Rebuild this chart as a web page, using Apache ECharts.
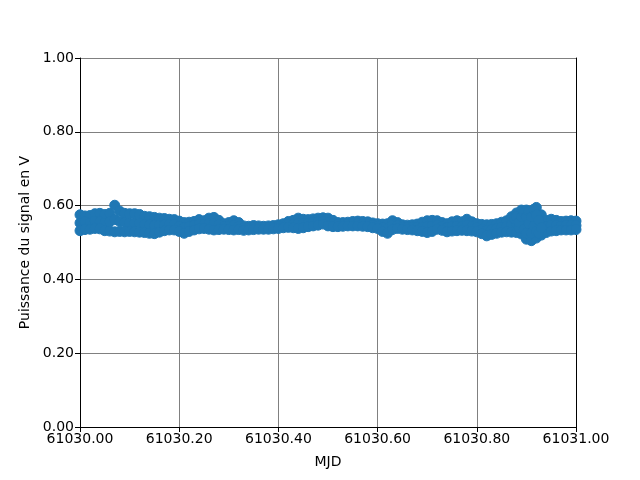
<!DOCTYPE html>
<html>
<head>
<meta charset="utf-8">
<script src="https://cdn.jsdelivr.net/npm/echarts@6/dist/echarts.min.js"></script>
<style>
  body { margin: 0; background: #fff; }
  #chart { width: 640px; height: 480px; }
</style>
</head>
<body>
<div id="chart"></div>
<script>
  // MJD sample times (offset in days from 61030)
  const mjdOffsets = [
    0.00, 0.01, 0.02, 0.03, 0.04, 0.05, 0.06, 0.07, 0.08, 0.09,
    0.10, 0.11, 0.12, 0.13, 0.14, 0.15, 0.16, 0.17, 0.18, 0.19,
    0.20, 0.21, 0.22, 0.23, 0.24, 0.25, 0.26, 0.27, 0.28, 0.29,
    0.30, 0.31, 0.32, 0.33, 0.34, 0.35, 0.36, 0.37, 0.38, 0.39,
    0.40, 0.41, 0.42, 0.43, 0.44, 0.45, 0.46, 0.47, 0.48, 0.49,
    0.50, 0.51, 0.52, 0.53, 0.54, 0.55, 0.56, 0.57, 0.58, 0.59,
    0.60, 0.61, 0.62, 0.63, 0.64, 0.65, 0.66, 0.67, 0.68, 0.69,
    0.70, 0.71, 0.72, 0.73, 0.74, 0.75, 0.76, 0.77, 0.78, 0.79,
    0.80, 0.81, 0.82, 0.83, 0.84, 0.85, 0.86, 0.87, 0.88, 0.89,
    0.90, 0.91, 0.92, 0.93, 0.94, 0.95, 0.96, 0.97, 0.98, 0.99, 1.00
  ]
  // signal power (V), upper / middle / lower readings at each time
  const sigHigh = [
    0.575, 0.572, 0.573, 0.578, 0.579, 0.576, 0.579, 0.601, 0.585, 0.579,
    0.578, 0.578, 0.576, 0.571, 0.570, 0.568, 0.566, 0.565, 0.563, 0.562,
    0.558, 0.554, 0.555, 0.557, 0.562, 0.559, 0.566, 0.568, 0.560, 0.551,
    0.554, 0.559, 0.554, 0.545, 0.544, 0.546, 0.545, 0.544, 0.545, 0.546,
    0.548, 0.551, 0.557, 0.560, 0.566, 0.563, 0.562, 0.564, 0.566, 0.567,
    0.566, 0.560, 0.554, 0.554, 0.555, 0.557, 0.558, 0.557, 0.556, 0.553,
    0.551, 0.550, 0.551, 0.559, 0.554, 0.548, 0.547, 0.548, 0.550, 0.555,
    0.559, 0.560, 0.559, 0.554, 0.551, 0.556, 0.559, 0.556, 0.563, 0.556,
    0.551, 0.549, 0.548, 0.549, 0.551, 0.555, 0.559, 0.570, 0.580, 0.588,
    0.588, 0.585, 0.595, 0.575, 0.560, 0.563, 0.560, 0.557, 0.558, 0.559, 0.558
  ]
  const sigMid = [
    0.553, 0.556, 0.553, 0.558, 0.556, 0.553, 0.556, 0.562, 0.557, 0.554,
    0.553, 0.553, 0.552, 0.549, 0.548, 0.546, 0.547, 0.548, 0.549, 0.549,
    0.544, 0.540, 0.543, 0.546, 0.550, 0.548, 0.551, 0.551, 0.548, 0.543,
    0.545, 0.546, 0.544, 0.539, 0.539, 0.540, 0.541, 0.540, 0.540, 0.541,
    0.543, 0.545, 0.549, 0.550, 0.552, 0.551, 0.552, 0.554, 0.556, 0.558,
    0.555, 0.551, 0.549, 0.549, 0.550, 0.551, 0.551, 0.550, 0.549, 0.547,
    0.545, 0.540, 0.538, 0.547, 0.546, 0.542, 0.541, 0.541, 0.541, 0.542,
    0.543, 0.545, 0.547, 0.543, 0.540, 0.543, 0.545, 0.544, 0.547, 0.543,
    0.540, 0.536, 0.533, 0.535, 0.538, 0.541, 0.544, 0.549, 0.553, 0.555,
    0.548, 0.545, 0.553, 0.547, 0.543, 0.547, 0.546, 0.545, 0.546, 0.546, 0.546
  ]
  const sigLow = [
    0.532, 0.535, 0.536, 0.538, 0.537, 0.532, 0.531, 0.529, 0.530, 0.529,
    0.530, 0.529, 0.528, 0.527, 0.525, 0.524, 0.528, 0.532, 0.534, 0.534,
    0.530, 0.525, 0.530, 0.534, 0.537, 0.538, 0.536, 0.534, 0.535, 0.536,
    0.535, 0.534, 0.535, 0.533, 0.534, 0.535, 0.536, 0.536, 0.536, 0.537,
    0.538, 0.540, 0.541, 0.540, 0.538, 0.540, 0.543, 0.545, 0.547, 0.550,
    0.545, 0.543, 0.543, 0.544, 0.545, 0.545, 0.545, 0.544, 0.543, 0.540,
    0.538, 0.530, 0.525, 0.535, 0.538, 0.536, 0.535, 0.534, 0.532, 0.530,
    0.527, 0.530, 0.536, 0.533, 0.529, 0.531, 0.532, 0.533, 0.532, 0.531,
    0.529, 0.524, 0.518, 0.522, 0.525, 0.528, 0.529, 0.528, 0.527, 0.523,
    0.509, 0.505, 0.512, 0.520, 0.527, 0.531, 0.532, 0.534, 0.534, 0.534, 0.535
  ]
  // extra readings in the noisy stretch near the end of the day
  const burstOffsets = [
    0.875, 0.880, 0.885, 0.885, 0.890, 0.895, 0.895, 0.900, 0.900, 0.905,
    0.905, 0.910, 0.910, 0.915, 0.915, 0.920, 0.920, 0.925, 0.925, 0.930
  ]
  const burstSig = [
    0.565, 0.570, 0.540, 0.555, 0.570, 0.535, 0.580, 0.570, 0.525, 0.550,
    0.585, 0.570, 0.525, 0.545, 0.590, 0.575, 0.530, 0.560, 0.525, 0.540
  ]
  const xTicks = [61030.0, 61030.2, 61030.4, 61030.6, 61030.8, 61031.0]
  const yTicks = [0.0, 0.2, 0.4, 0.6, 0.8, 1.0]

  const mjdStart = 61030
  let points = []
  ;[sigHigh, sigMid, sigLow].forEach(arr => {
    arr.forEach((v, i) => {
      points.push([mjdStart + mjdOffsets[i], v])
    })
  })
  burstSig.forEach((v, i) => {
    points.push([mjdStart + burstOffsets[i], v])
  })

  const font = 'DejaVu Sans'
  let myChart = echarts.init(document.getElementById('chart'), null, { renderer: 'canvas' })
  myChart.setOption({
    animation: false,
    textStyle: { fontFamily: font },
    grid: { left: 80, right: 64, top: 58, bottom: 53 },
    xAxis: [
      {
        type: 'value',
        min: xTicks[0],
        max: xTicks[xTicks.length - 1],
        interval: 0.2,
        name: 'MJD',
        nameLocation: 'middle',
        nameGap: 28,
        nameTextStyle: { fontSize: 14, color: '#000', fontFamily: font },
        axisLine: { show: true, lineStyle: { color: '#000', width: 1 } },
        axisTick: { show: true, inside: false, length: 5, lineStyle: { color: '#000' } },
        axisLabel: { color: '#000', fontSize: 14, fontFamily: font, margin: 5,
          formatter: v => v.toFixed(2) },
        splitLine: { show: true, lineStyle: { color: '#808080', width: 1 } }
      },
      {
        type: 'value', position: 'top',
        min: xTicks[0], max: xTicks[xTicks.length - 1],
        axisLine: { show: true, lineStyle: { color: '#000', width: 1 } },
        axisTick: { show: false }, axisLabel: { show: false }, splitLine: { show: false }
      }
    ],
    yAxis: [
      {
        type: 'value',
        min: yTicks[0],
        max: yTicks[yTicks.length - 1],
        interval: 0.2,
        name: 'Puissance du signal en V',
        nameLocation: 'middle',
        nameGap: 46,
        nameTextStyle: { fontSize: 14, color: '#000', fontFamily: font },
        axisLine: { show: true, lineStyle: { color: '#000', width: 1 } },
        axisTick: { show: true, inside: false, length: 5, lineStyle: { color: '#000' } },
        axisLabel: { color: '#000', fontSize: 14, fontFamily: font, margin: 6,
          formatter: v => v.toFixed(2) },
        splitLine: { show: true, lineStyle: { color: '#808080', width: 1 } }
      },
      {
        type: 'value', position: 'right',
        min: yTicks[0], max: yTicks[yTicks.length - 1],
        axisLine: { show: true, lineStyle: { color: '#000', width: 1 } },
        axisTick: { show: false }, axisLabel: { show: false }, splitLine: { show: false }
      }
    ],
    series: [
      {
        name: 'signal',
        type: 'scatter',
        symbol: 'circle',
        symbolSize: 10,
        itemStyle: { color: '#1f77b4', borderColor: '#1f77b4', borderWidth: 1, opacity: 1 },
        data: points
      }
    ]
  })
</script>
</body>
</html>
